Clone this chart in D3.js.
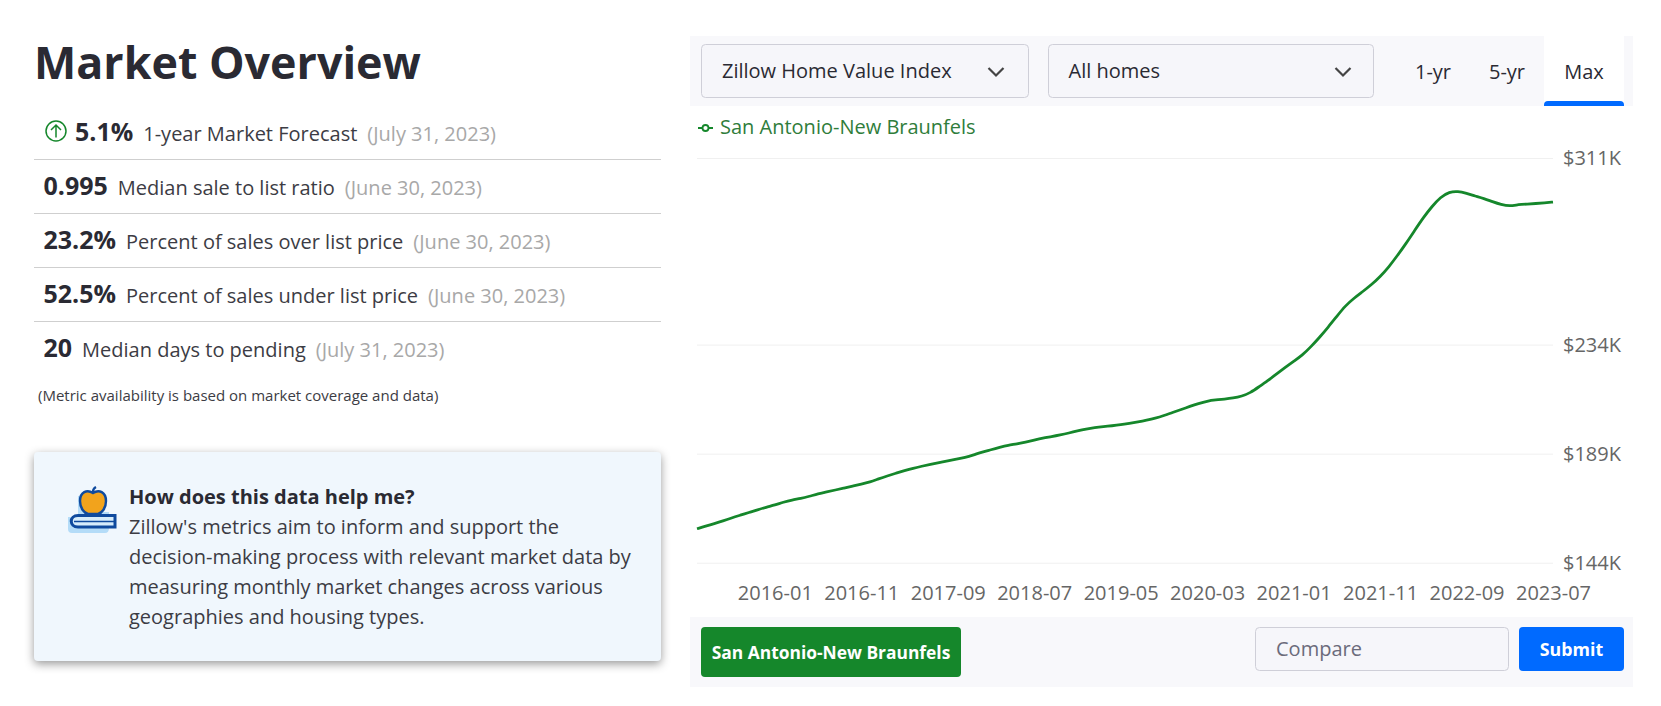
<!DOCTYPE html>
<html>
<head>
<meta charset="utf-8">
<script src="https://cdn.jsdelivr.net/npm/d3@7/dist/d3.min.js"></script>
<style>
  html, body { margin: 0; background: #fff; }
  svg { display: block; font-family: "Open Sans", sans-serif; }
</style>
</head>
<body>
<svg id="chart"></svg>
<script>
// monthly home value index, $K (2015-04 .. 2023-07)
const zhvi = [
  158.0,159.1,160.1,161.2,162.5,163.6,164.7,165.8,166.9,167.8,
  169.0,169.9,170.5,171.4,172.4,173.2,174.0,174.8,175.6,176.4,
  177.3,178.6,179.8,180.9,182.0,183.0,183.8,184.6,185.3,186.0,
  186.7,187.4,188.5,189.7,190.6,191.6,192.5,193.0,193.8,194.6,
  195.4,196.0,196.7,197.5,198.4,199.2,199.8,200.2,200.5,200.9,
  201.5,202.1,202.8,203.6,204.7,206.0,207.2,208.5,209.7,210.7,
  211.2,211.5,211.9,212.7,214.1,216.6,219.1,221.8,224.5,227.1,
  229.6,233.1,237.0,241.2,245.7,250.1,253.2,255.9,258.7,262.0,
  266.0,270.7,275.7,281.1,286.4,291.0,294.9,297.0,297.3,296.4,
  295.3,294.3,293.0,291.8,291.1,291.8,292.0,292.2,292.5,292.8
];
const xTicks = ['2016-01','2016-11','2017-09','2018-07','2019-05','2020-03','2021-01','2021-11','2022-09','2023-07'];
const yTicks = [144, 189, 234, 311];
const seriesName = 'San Antonio-New Braunfels';

const statValues = ['5.1%', '0.995', '23.2%', '52.5%', '20'];
const statLabels = ['1-year Market Forecast', 'Median sale to list ratio', 'Percent of sales over list price', 'Percent of sales under list price', 'Median days to pending'];
const statDates  = ['(July 31, 2023)', '(June 30, 2023)', '(June 30, 2023)', '(June 30, 2023)', '(July 31, 2023)'];
const helpLines  = ["Zillow's metrics aim to inform and support the", 'decision-making process with relevant market data by', 'measuring monthly market changes across various', 'geographies and housing types.'];

const W = 1661, H = 706;
const INK = '#2a2a33', GREEN = '#15872b', BLUE = '#006aff', PANEL = '#f8f8fb';
const FS = 20;

const svg = d3.select('#chart').attr('width', W).attr('height', H);

const label = (g, x, y, str, size, fill, weight, anchor) => g.append('text')
  .attr('x', x).attr('y', y).attr('font-size', size).attr('fill', fill)
  .attr('font-weight', weight || 400).attr('text-anchor', anchor || 'start').text(str);

// ── Left column ───────────────────────────────────────────────────────
label(svg, 34, 78.5, 'Market Overview', 44.8, INK, 700);

const rowY = [141, 195, 249, 303, 357];
statValues.forEach((v, i) => {
  const x0 = i === 0 ? 75 : 43.5;
  const a = label(svg, x0, rowY[i], v, 25, INK, 700);
  const x1 = x0 + a.node().getComputedTextLength() + 10;
  const b = label(svg, x1, rowY[i], statLabels[i], FS, '#3c3c44');
  const x2 = x1 + b.node().getComputedTextLength() + 10;
  label(svg, x2, rowY[i], statDates[i], FS, '#a8a8a8');
  if (i < 4) svg.append('line').attr('x1', 34).attr('x2', 661).attr('y1', 159.5 + i * 54).attr('y2', 159.5 + i * 54).attr('stroke', '#cfcfcf');
});

// forecast arrow
const up = svg.append('g').attr('transform', 'translate(56,131)').attr('fill', 'none').attr('stroke', GREEN).attr('stroke-width', 1.5);
up.append('circle').attr('r', 10);
up.append('path').attr('d', 'M0,6.5V-6M-5,-1L0,-6L5,-1');

label(svg, 38, 401, '(Metric availability is based on market coverage and data)', 15, '#3c3c44');

// help card
svg.append('rect').attr('x', 34).attr('y', 452).attr('width', 627).attr('height', 209).attr('rx', 4)
  .attr('fill', '#f0f7fd').style('filter', 'drop-shadow(0 3px 5px rgba(0,0,0,.4))');
label(svg, 129, 504, 'How does this data help me?', FS, INK, 700);
helpLines.forEach((t, i) => label(svg, 129, 534 + i * 30, t, FS, '#3c3c44'));

// apple on books
const icon = svg.append('g').attr('transform', 'translate(93,0)');
icon.append('path').attr('d', 'M-15,496H0V512H16V528Q16,533 12,533H-21Q-25,533 -25,529V517H-15Z').attr('fill', '#b4dcf8');
icon.append('path').attr('d', 'M0,493C-6,489 -13,492 -13,501C-13,508 -9,513 -5,514H5C9,513 13,508 13,501C13,492 6,489 0,493Z')
  .attr('fill', '#f2a31c').attr('stroke', '#0f4a9e').attr('stroke-width', 2.4);
icon.append('path').attr('d', 'M0,492C0,490 1,488 3,487').attr('fill', 'none').attr('stroke', '#0f4a9e').attr('stroke-width', 2.4);
icon.append('path').attr('d', 'M22,515.5H-15C-24,515.5 -24,527 -15,527H22V515.5Z').attr('fill', '#d6ecfb').attr('stroke', '#0f4a9e').attr('stroke-width', 3);
icon.append('path').attr('d', 'M-19,521.5H22').attr('stroke', '#0f4a9e').attr('stroke-width', 1.5);

// ── Toolbar ───────────────────────────────────────────────────────────
svg.append('rect').attr('x', 690).attr('y', 36).attr('width', 943).attr('height', 70).attr('fill', PANEL);
svg.append('rect').attr('x', 1544).attr('y', 36).attr('width', 80).attr('height', 70).attr('fill', '#fff');
svg.append('path').attr('d', 'M1544,106V105Q1544,101 1548,101H1620Q1624,101 1624,105V106Z').attr('fill', BLUE);

[[701, 327, 'Zillow Home Value Index', 996], [1048, 325, 'All homes', 1343]].forEach(([x, w, t, cx]) => {
  svg.append('rect').attr('x', x + .5).attr('y', 44.5).attr('width', w).attr('height', 53).attr('rx', 4)
    .attr('fill', '#f6f6fa').attr('stroke', '#cfcfd8');
  label(svg, x === 701 ? 722 : 1068.5, 78, t, FS, INK);
  svg.append('path').attr('d', `M${cx - 7.5},68L${cx},75.5L${cx + 7.5},68`).attr('fill', 'none').attr('stroke', '#444').attr('stroke-width', 2.2);
});
[['1-yr', 1433], ['5-yr', 1507], ['Max', 1584]].forEach(([t, cx]) => label(svg, cx, 79, t, FS, INK, 400, 'middle'));

// ── Chart ─────────────────────────────────────────────────────────────
const months = d3.utcMonth.range(new Date(Date.UTC(2015, 3, 1)), new Date(Date.UTC(2023, 7, 1))).map(d3.utcFormat('%Y-%m'));
const x = d3.scalePoint().domain(months).range([697, 1553]);
const y = d3.scaleLinear().domain([144, 311]).range([562.7, 158]);

const yAxis = svg.append('g').attr('transform', 'translate(1553,0)')
  .call(d3.axisLeft(y).tickValues(yTicks).tickSize(856).tickFormat(''));
yAxis.select('.domain').remove();
yAxis.selectAll('line').attr('stroke', '#f0f0f0');

svg.append('g').selectAll('text').data(yTicks).enter().append('text')
  .attr('x', 1563).attr('y', d => y(d) + 7).attr('font-size', FS).attr('fill', '#666')
  .text(d => `$${d}K`);

const xAxis = svg.append('g').attr('transform', 'translate(0,599.5)')
  .call(d3.axisBottom(x).tickValues(xTicks).tickSize(0).tickPadding(0));
xAxis.select('.domain').remove();
xAxis.selectAll('text').attr('font-family', '"Open Sans", sans-serif').attr('font-size', FS)
  .attr('fill', '#666').attr('dy', 0);

svg.append('path').datum(zhvi)
  .attr('d', d3.line().x((d, i) => x(months[i])).y(d => y(d)).curve(d3.curveBasis))
  .attr('fill', 'none').attr('stroke', GREEN).attr('stroke-width', 2.8);

// legend
svg.append('line').attr('x1', 698).attr('x2', 713).attr('y1', 128).attr('y2', 128).attr('stroke', GREEN).attr('stroke-width', 2);
svg.append('circle').attr('cx', 705.5).attr('cy', 128).attr('r', 3).attr('fill', '#fff').attr('stroke', GREEN).attr('stroke-width', 1.8);
label(svg, 720, 134, seriesName, FS, '#2f7d3b');

// ── Bottom bar ────────────────────────────────────────────────────────
svg.append('rect').attr('x', 690).attr('y', 617).attr('width', 943).attr('height', 70).attr('fill', PANEL);
svg.append('rect').attr('x', 701).attr('y', 627).attr('width', 260).attr('height', 50).attr('rx', 4).attr('fill', GREEN);
label(svg, 831, 659, seriesName, 17.4, '#fff', 700, 'middle');
svg.append('rect').attr('x', 1255.5).attr('y', 627.5).attr('width', 253).attr('height', 43).attr('rx', 4).attr('fill', '#f6f6fa').attr('stroke', '#cfcfd8');
label(svg, 1276, 656, 'Compare', FS, '#6b6b7b');
svg.append('rect').attr('x', 1519).attr('y', 627).attr('width', 105).attr('height', 44).attr('rx', 4).attr('fill', BLUE);
label(svg, 1571.5, 656, 'Submit', 17.8, '#fff', 700, 'middle');
</script>
</body>
</html>
